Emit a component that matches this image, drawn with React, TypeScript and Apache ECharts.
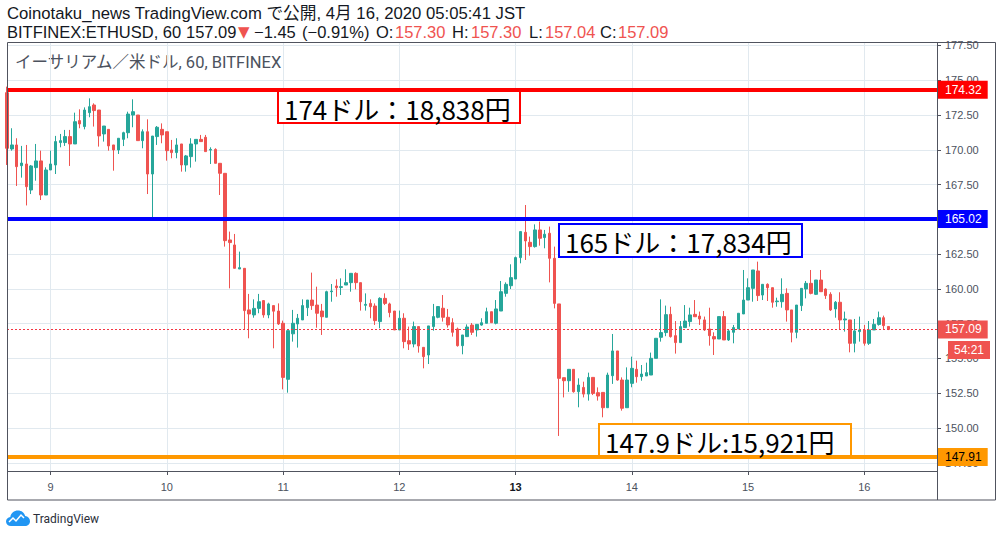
import React, { useEffect, useRef } from "react";
import * as echarts from "echarts";

// ---- Data (ETHUSD, BITFINEX, 1h candles, from Apr 8 15:00) ----
const START_DAY = 8;
const START_HOUR = 15;
const SLOT_COUNT = 193; // candles + empty space on the right

const opens = [
  174.11, 170.06, 170.35, 168.86, 168.98, 167.11, 168.72, 169.2, 166.75, 168.55,
  168.91, 170.52, 170.52, 170.95, 170.42, 172.1, 171.67, 172.67, 173.22, 172.86,
  171.14, 171.47, 170.35, 169.99, 170.75, 171.23, 172.5, 172.5, 170.66, 171.3,
  168.26, 170.95, 171.47, 171.3, 169.99, 169.8, 170.42, 168.91, 169.51, 170.42,
  170.75, 170.9, 169.98, 170.03, 169.03, 168.31, 163.52, 163.16, 161.43, 161.48,
  158.49, 158.13, 158.6, 159.16, 158.13, 158.8, 158.41, 157.53, 153.5, 156.77,
  157.48, 157.77, 158.65, 159.2, 158.84, 158.41, 157.96, 159.8, 160.21, 160.11,
  160.28, 160.45, 161.12, 160.45, 158.82, 158.96, 158.77, 157.65, 159.32, 158.92,
  158.41, 157.05, 157.89, 156.28, 156.04, 157.29, 155.8, 155.25, 157.29, 157.96,
  158.61, 157.96, 157.57, 157.12, 155.92, 156.57, 157.4, 157.05, 157.4, 157.53,
  158.36, 157.53, 158.41, 159.68, 160.23, 160.71, 162.25, 164.07, 163.35, 163.04,
  164.24, 163.69, 164.0, 162.2, 158.92, 153.62, 153.4, 154.22, 152.61, 152.92,
  152.44, 153.64, 152.54, 152.56, 151.46, 153.76, 155.54, 153.45, 151.46, 153.21,
  154.22, 153.69, 153.74, 153.81, 155.01, 156.52, 156.86, 158.17, 156.64, 156.14,
  157.22, 157.65, 158.17, 158.05, 157.77, 157.12, 156.57, 156.4, 158.01, 156.33,
  156.88, 157.12, 158.2, 159.2, 160.04, 161.29, 159.56, 160.33, 160.09, 159.08,
  159.08, 159.68, 158.49, 156.88, 158.8, 160.0, 160.4, 159.61, 160.64, 159.99,
  159.61, 158.56, 159.04, 157.77, 157.77, 156.09, 156.93, 157.05, 156.09, 157.05,
  157.45, 157.93, 157.3,
];
const closes = [
  170.11, 170.35, 168.79, 169.05, 167.35, 168.84, 169.2, 166.75, 168.55, 168.98,
  170.59, 170.66, 170.95, 170.42, 172.02, 171.86, 172.86, 173.1, 172.82, 171.0,
  171.71, 170.28, 169.99, 170.83, 171.23, 172.57, 172.74, 170.66, 171.3, 168.26,
  170.99, 171.62, 171.07, 169.94, 169.8, 170.35, 168.91, 169.56, 170.42, 170.75,
  170.59, 169.87, 170.03, 169.03, 168.31, 163.47, 163.33, 161.48, 161.53, 158.44,
  158.2, 158.6, 159.08, 158.13, 158.92, 158.4, 157.48, 153.64, 157.0, 157.53,
  157.89, 158.8, 159.2, 158.8, 158.25, 158.0, 159.8, 159.85, 160.09, 160.16,
  160.45, 161.12, 160.45, 159.08, 158.89, 158.72, 157.72, 159.32, 158.96, 158.3,
  157.05, 157.89, 156.21, 156.04, 157.29, 155.9, 155.13, 157.34, 158.01, 158.73,
  157.96, 157.41, 156.88, 155.92, 156.69, 157.26, 156.88, 157.45, 157.57, 158.36,
  157.57, 158.56, 159.8, 160.33, 160.81, 162.25, 164.12, 163.45, 163.04, 164.24,
  163.64, 163.93, 162.2, 158.96, 153.57, 153.4, 154.22, 152.61, 153.09, 152.44,
  153.64, 152.49, 152.3, 151.46, 153.81, 155.54, 153.45, 151.42, 153.45, 154.29,
  153.69, 153.88, 153.98, 155.01, 156.45, 156.86, 158.15, 156.57, 156.14, 157.29,
  157.69, 158.13, 158.0, 157.84, 157.05, 156.64, 156.4, 158.01, 156.33, 156.98,
  157.22, 158.25, 159.2, 160.09, 161.36, 159.52, 160.33, 160.09, 159.04, 159.13,
  159.61, 158.49, 156.88, 158.84, 160.04, 160.4, 159.68, 160.64, 159.8, 159.52,
  158.49, 159.04, 157.77, 157.84, 156.09, 156.98, 157.05, 156.09, 157.05, 157.45,
  157.93, 157.36, 157.09,
];
const lows = [
  168.91, 169.94, 167.4, 168.0, 166.0, 166.82, 167.78, 166.39, 166.75, 168.55,
  168.26, 170.18, 170.28, 168.84, 170.42, 171.55, 171.47, 172.34, 171.67, 170.23,
  170.59, 169.94, 168.5, 169.7, 170.27, 170.83, 171.62, 170.66, 170.11, 166.82,
  165.12, 170.35, 170.47, 169.22, 169.39, 169.39, 168.43, 168.43, 168.72, 169.15,
  170.59, 169.87, 168.98, 169.03, 166.75, 163.04, 160.04, 161.48, 161.43, 157.1,
  156.45, 157.93, 158.25, 157.93, 157.89, 155.73, 157.41, 152.78, 152.54, 156.21,
  155.78, 157.77, 158.05, 158.49, 157.21, 156.69, 157.96, 159.08, 159.44, 159.56,
  160.28, 159.8, 159.97, 158.44, 158.44, 157.89, 157.41, 157.17, 158.84, 157.96,
  157.05, 157.05, 155.73, 155.61, 155.8, 155.42, 154.29, 154.6, 157.0, 157.89,
  157.65, 157.22, 156.57, 155.85, 155.3, 156.57, 156.69, 156.57, 157.36, 157.53,
  157.57, 157.45, 158.41, 159.44, 159.99, 160.71, 161.84, 162.08, 162.39, 162.97,
  163.11, 162.92, 160.47, 158.6, 149.43, 152.2, 152.6, 152.54, 151.49, 152.2,
  151.97, 152.37, 151.97, 150.77, 151.46, 153.17, 153.4, 151.25, 151.46, 152.93,
  153.26, 153.4, 153.74, 153.81, 155.01, 156.21, 156.6, 156.5, 155.35, 156.14,
  157.22, 157.29, 158.0, 157.41, 156.98, 155.92, 155.25, 156.4, 156.33, 156.26,
  156.09, 157.12, 158.2, 159.2, 159.08, 159.13, 159.2, 159.13, 158.65, 158.72,
  158.65, 157.65, 156.16, 156.45, 158.41, 159.32, 159.61, 159.56, 159.8, 159.28,
  158.41, 157.93, 157.05, 156.93, 155.44, 155.44, 156.21, 155.92, 155.97, 157.05,
  157.36, 157.12, 157.04,
];
const highs = [
  174.54, 171.55, 170.83, 170.28, 170.35, 168.91, 170.42, 169.94, 168.74, 169.94,
  171.0, 171.14, 171.43, 171.43, 172.67, 172.91, 173.05, 173.7, 173.34, 172.86,
  171.71, 171.47, 170.35, 170.83, 171.3, 172.74, 173.63, 172.5, 171.47, 172.19,
  170.99, 171.71, 171.9, 171.3, 170.71, 170.83, 170.42, 169.63, 170.83, 170.75,
  171.07, 171.07, 170.18, 170.11, 169.03, 168.31, 164.12, 163.95, 162.68, 161.48,
  159.64, 159.25, 159.64, 159.2, 159.01, 158.8, 158.96, 157.72, 157.0, 158.49,
  158.2, 159.25, 159.2, 161.17, 160.16, 158.92, 159.87, 160.35, 160.69, 160.76,
  161.41, 161.12, 161.19, 160.45, 159.68, 159.25, 158.96, 159.4, 159.68, 159.01,
  158.41, 158.44, 158.25, 157.29, 157.65, 157.29, 155.8, 157.34, 158.92, 158.77,
  159.56, 158.56, 157.89, 157.22, 156.69, 157.45, 157.55, 157.45, 157.89, 158.65,
  158.36, 159.2, 160.57, 160.47, 161.77, 162.32, 164.12, 166.03, 163.76, 164.64,
  164.84, 164.24, 164.48, 163.04, 158.92, 153.62, 154.22, 154.22, 153.57, 153.33,
  153.98, 153.64, 152.92, 152.56, 153.98, 156.76, 155.54, 153.64, 154.36, 155.13,
  154.84, 154.53, 154.7, 155.42, 156.45, 159.25, 158.8, 158.72, 157.69, 157.69,
  158.84, 158.65, 159.2, 158.37, 158.01, 158.65, 156.88, 158.01, 158.41, 157.05,
  157.41, 158.25, 161.36, 160.76, 161.36, 161.96, 160.33, 160.4, 160.09, 159.37,
  160.76, 160.04, 158.49, 158.84, 160.04, 160.57, 161.36, 160.64, 161.36, 160.04,
  159.76, 159.13, 159.76, 158.37, 157.77, 157.84, 158.01, 157.41, 157.69, 157.84,
  158.37, 158.08, 157.3,
];

const prevClose = 158.54;
const yTickValues = [147.5, 150, 152.5, 155, 157.5, 160, 162.5, 165, 167.5, 170, 172.5, 175, 177.5];
const Y_MIN = 146.91;
const Y_MAX = 177.75;

const levelValues = [174.32, 165.02, 147.91];
const levelColors = ["#ff0000", "#0000ff", "#ff9800"];
const levelTextColors = ["#ffffff", "#ffffff", "#000000"];
const noteTexts = ["174ドル：18,838円", "165ドル：17,834円", "147.9ドル:15,921円"];
const countdownText = "54:21";
const headerLine1 = "Coinotaku_news TradingView.com で公開, 4月 16, 2020 05:05:41 JST";
const symbolText = "BITFINEX:ETHUSD, 60";
const paneTitle = "イーサリアム／米ドル, 60, BITFINEX";
const WEEK_START_DAY = 13;

const categories: string[] = Array.from({ length: SLOT_COUNT }, (_, i) => {
  const h = START_HOUR + i;
  const day = START_DAY + Math.floor(h / 24);
  const hour = h % 24;
  return `${day}|${hour}`;
});
const isDayStart = (idx: number) => categories[idx].split("|")[1] === "0";

const FONT = 'Roboto, "Noto Sans CJK JP", sans-serif';
const HEAD_FONT = '"Liberation Sans", Arial, "Noto Sans CJK JP", sans-serif';
const AXIS_FONT = '"Liberation Sans", Arial, sans-serif';

export default function App() {
  const ref = useRef<HTMLDivElement>(null);

  useEffect(() => {
    if (!ref.current) return;
    echarts.graphic.registerShape(
      "tvcloud",
      echarts.graphic.extendPath(
        "M5 16 C2 16 0 14 0 11.5 C0 9 2 7.2 4.3 7 C5 3 8 0.5 12 0.5 C15.5 0.5 18.3 2.7 19.2 6 C22 6.3 24 8.5 24 11.2 C24 13.9 21.8 16 19 16 Z",
        {}
      )
    );
    const chart = echarts.init(ref.current, undefined, { renderer: "svg" });

    const n = opens.length;
    const candleData = opens.map((o, i) => [o, closes[i], lows[i], highs[i]]);
    const last = closes[n - 1];
    const change = last - prevClose;
    const pct = (change / prevClose) * 100;
    const minus = (v: number) => (v < 0 ? "−" + Math.abs(v).toFixed(2) : v.toFixed(2));

    const tagLabel = (text: string, bg: string, fg: string) => ({
      show: true,
      position: "end",
      distance: 0,
      formatter: text,
      backgroundColor: bg,
      color: fg,
      padding: [3, 6, 3, 8],
      fontSize: 12,
      lineHeight: 12,
      fontFamily: AXIS_FONT,
    });

    const markData: any[] = levelValues.map((v, i) => ({
      yAxis: v,
      lineStyle: { color: levelColors[i], width: 4, type: "solid", opacity: 1 },
      label: tagLabel(v.toFixed(2), levelColors[i], levelTextColors[i]),
    }));
    markData.push({
      yAxis: last,
      lineStyle: { color: "#f23645", width: 1, type: [2, 2], opacity: 1 },
      label: tagLabel(last.toFixed(2), "#ef5350", "#ffffff"),
    });

    const noteBoxes = [
      { x: 278, y: 91, w: 242, h: 32 },
      { x: 559, y: 224, w: 243, h: 33 },
      { x: 599, y: 424, w: 252, h: 32 },
    ];

    // header line 2 segments: [text, x, red?]
    const line2: [string, number, boolean][] = [
      [symbolText, 7, false],
      [last.toFixed(2), 186, false],
      ["▼", 238, true],
      [minus(change), 254, false],
      [`(${minus(pct)}%)`, 302, false],
      ["O:", 376, false],
      [opens[n - 1].toFixed(2), 395, true],
      ["H:", 452, false],
      [highs[n - 1].toFixed(2), 471, true],
      ["L:", 529, false],
      [lows[n - 1].toFixed(2), 545, true],
      ["C:", 600, false],
      [last.toFixed(2), 618, true],
    ];

    const graphics: any[] = [
      // outer frame
      {
        type: "rect",
        z: 50,
        shape: { x: 7.5, y: 42.5, width: 988, height: 457.5 },
        style: { fill: "none", stroke: "#50535e", lineWidth: 1 },
        silent: true,
      },
      {
        type: "line",
        z: 50,
        shape: { x1: 937.5, y1: 42.5, x2: 937.5, y2: 500 },
        style: { stroke: "#50535e", lineWidth: 1 },
        silent: true,
      },
      {
        type: "line",
        z: 50,
        shape: { x1: 7.5, y1: 471.5, x2: 937.5, y2: 471.5 },
        style: { stroke: "#50535e", lineWidth: 1 },
        silent: true,
      },
      // header
      {
        type: "text",
        x: 7,
        y: 13,
        style: {
          text: headerLine1,
          font: `16.7px ${HEAD_FONT}`,
          fill: "#131722",
          verticalAlign: "middle",
        },
      },
      ...line2.map(([t, x, red]) => ({
        type: "text",
        x,
        y: 32,
        style: {
          text: t,
          font: `${t === "▼" ? 15 : 16.5}px ${t === "▼" ? '"DejaVu Sans", sans-serif' : HEAD_FONT}`,
          fill: red ? "#ef5350" : "#131722",
          verticalAlign: "middle",
        },
      })),
      {
        type: "text",
        x: 15,
        y: 62,
        style: {
          text: paneTitle,
          font: `16.5px ${FONT}`,
          fill: "#4c525e",
          verticalAlign: "middle",
        },
      },
      // countdown tag
      {
        type: "rect",
        z: 60,
        shape: { x: 948, y: 341, width: 42, height: 18 },
        style: { fill: "#ef5350" },
      },
      {
        type: "text",
        z: 61,
        x: 969,
        y: 350,
        style: {
          text: countdownText,
          font: `12px ${AXIS_FONT}`,
          fill: "#ffffff",
          align: "center",
          verticalAlign: "middle",
        },
      },
      // logo
      {
        type: "tvcloud",
        x: 6,
        y: 510,
        scaleX: 1,
        scaleY: 1,
        style: { fill: "#2196f3" },
      },
      {
        type: "polyline",
        shape: { points: [[9, 522], [13, 518], [16, 521], [21, 515], [24, 518]] },
        style: { stroke: "#ffffff", lineWidth: 1.5, fill: "none" },
      },
      {
        type: "text",
        x: 33,
        y: 519,
        style: {
          text: "TradingView",
          font: `12px ${FONT}`,
          fill: "#2a2e39",
          verticalAlign: "middle",
        },
      },
    ];

    noteBoxes.forEach((b, i) => {
      graphics.push({
        type: "rect",
        z: 70,
        shape: { x: b.x, y: b.y, width: b.w, height: b.h },
        style: { fill: "#ffffff", stroke: levelColors[i], lineWidth: 2 },
      });
      graphics.push({
        type: "text",
        z: 71,
        x: b.x + 6,
        y: b.y + b.h / 2 + 1,
        style: {
          text: noteTexts[i],
          font: `26px "Noto Sans CJK JP", sans-serif`,
          fill: "#000000",
          verticalAlign: "middle",
        },
      });
    });

    chart.setOption({
      animation: false,
      backgroundColor: "#ffffff",
      grid: { left: 7, right: 65, top: 42, bottom: 66, containLabel: false },
      xAxis: {
        type: "category",
        data: categories,
        boundaryGap: false,
        axisLine: { show: false },
        axisTick: {
          show: true,
          length: 4,
          interval: (idx: number) => isDayStart(idx),
          lineStyle: { color: "#50535e" },
        },
        axisLabel: {
          interval: (idx: number) => isDayStart(idx),
          formatter: (v: string) => {
            const d = v.split("|")[0];
            return Number(d) === WEEK_START_DAY ? `{b|${d}}` : d;
          },
          color: "#4c525e",
          fontSize: 11,
          fontFamily: AXIS_FONT,
          margin: 10,
          rich: { b: { fontWeight: "bold", fontSize: 11, color: "#131722", fontFamily: AXIS_FONT } },
        },
        splitLine: {
          show: true,
          interval: (idx: number) => isDayStart(idx),
          lineStyle: { color: "#e1e9ef", width: 1 },
        },
      },
      yAxis: {
        type: "value",
        position: "right",
        min: Y_MIN,
        max: Y_MAX,
        axisLine: { show: false },
        axisTick: {
          show: true,
          length: 4,
          customValues: yTickValues,
          lineStyle: { color: "#50535e" },
        },
        axisLabel: {
          customValues: yTickValues,
          formatter: (v: number) => v.toFixed(2),
          color: "#4c525e",
          fontSize: 11,
          fontFamily: AXIS_FONT,
          margin: 8,
        },
        splitLine: { show: true, lineStyle: { color: "#e1e9ef", width: 1 } },
      },
      series: [
        {
          type: "candlestick",
          data: candleData,
          barWidth: 3,
          itemStyle: {
            color: "#26a69a",
            color0: "#ef5350",
            borderColor: "#26a69a",
            borderColor0: "#ef5350",
            borderWidth: 1,
          },
          markLine: {
            silent: true,
            symbol: ["none", "none"],
            animation: false,
            data: markData,
          },
        },
      ],
      graphic: graphics,
    });

    return () => chart.dispose();
  }, []);

  return (
    <div
      ref={ref}
      style={{ position: "absolute", left: 0, top: 0, width: 1002, height: 537 }}
    />
  );
}
